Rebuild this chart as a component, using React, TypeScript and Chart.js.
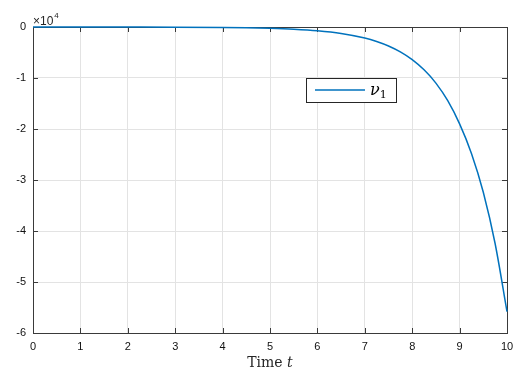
import React, { useEffect, useRef } from "react";
import { Chart, registerables } from "chart.js";

Chart.register(...registerables);

const timeT: number[] = [0, 1, 2, 3, 4, 4.5, 5, 5.5, 6, 6.5, 7, 7.25, 7.5, 7.75, 8, 8.25, 8.5, 8.75, 9, 9.25, 9.5, 9.75, 10];
const nu1: number[] = [0, -3, -8, -25, -80, -140, -250, -430, -730, -1260, -2160, -2840, -3720, -4880, -6400, -8400, -11000, -14450, -19000, -24800, -32400, -42500, -55800];
const xTicks: number[] = [0, 1, 2, 3, 4, 5, 6, 7, 8, 9, 10];
const yTicks: number[] = [0, -1, -2, -3, -4, -5, -6];
const legendLabel = "ν";
const legendSub = "1";
const xTitle = "Time ";
const xTitleVar = "t";
const yExponent = "4";

const LINE = "#0072BD";
const AXIS = "#262626";
const FRAME = "#3a3a3a";
const GRID = "#e3e3e3";
const SANS = '"Liberation Sans", Arial, sans-serif';

const framePlugin = {
  id: "frame",
  beforeDatasetsDraw(chart: any) {
    const { ctx, chartArea: a, scales } = chart;
    ctx.save();
    ctx.strokeStyle = FRAME;
    ctx.lineWidth = 1;
    ctx.strokeRect(Math.round(a.left) + 0.5, Math.round(a.top) + 0.5, Math.round(a.right - a.left), Math.round(a.bottom - a.top));
    ctx.beginPath();
    const tl = 5;
    for (const v of xTicks) {
      const x = Math.round(scales.x.getPixelForValue(v)) + 0.5;
      ctx.moveTo(x, a.bottom);
      ctx.lineTo(x, a.bottom - tl);
      ctx.moveTo(x, a.top);
      ctx.lineTo(x, a.top + tl);
    }
    for (const v of yTicks) {
      const y = Math.round(scales.y.getPixelForValue(v * 1e4)) + 0.5;
      ctx.moveTo(a.left, y);
      ctx.lineTo(a.left + tl, y);
      ctx.moveTo(a.right, y);
      ctx.lineTo(a.right - tl, y);
    }
    ctx.stroke();
    ctx.restore();
  },
  afterDraw(chart: any) {
    const { ctx, chartArea: a } = chart;
    ctx.save();
    // x axis title
    ctx.fillStyle = AXIS;
    ctx.textBaseline = "alphabetic";
    const f1 = '14px "DejaVu Serif", serif';
    const f2 = 'italic 14px "DejaVu Serif", serif';
    ctx.font = f1;
    const w1 = ctx.measureText(xTitle).width;
    ctx.font = f2;
    const w2 = ctx.measureText(xTitleVar).width;
    const cx = (a.left + a.right) / 2;
    const sx = cx - (w1 + w2) / 2;
    ctx.font = f1;
    ctx.textAlign = "left";
    ctx.fillText(xTitle, sx, 367);
    ctx.font = f2;
    ctx.fillText(xTitleVar, sx + w1, 367);
    // exponent label
    ctx.font = "12px " + SANS;
    ctx.fillText("×10", a.left + 0, a.top - 2);
    const we = ctx.measureText("×10").width;
    ctx.font = "8px " + SANS;
    ctx.fillText(yExponent, a.left + 1 + we, a.top - 9);
    // legend
    const bx = 306, by = 78, bw = 90, bh = 24;
    ctx.fillStyle = "#ffffff";
    ctx.fillRect(bx, by, bw, bh);
    ctx.strokeStyle = AXIS;
    ctx.lineWidth = 1;
    ctx.strokeRect(bx + 0.5, by + 0.5, bw, bh);
    ctx.strokeStyle = LINE;
    ctx.lineWidth = 1.5;
    ctx.beginPath();
    ctx.moveTo(315, by + 12);
    ctx.lineTo(365, by + 12);
    ctx.stroke();
    ctx.fillStyle = "#000000";
    ctx.font = 'italic 16px "DejaVu Serif", serif';
    ctx.fillText(legendLabel, 370, by + 17);
    const wl = ctx.measureText(legendLabel).width;
    ctx.font = '11px "DejaVu Serif", serif';
    ctx.fillText(legendSub, 370 + wl, by + 20);
    ctx.restore();
  },
};

export default function App() {
  const ref = useRef<HTMLCanvasElement | null>(null);
  useEffect(() => {
    if (!ref.current) return;
    const chart = new Chart(ref.current, {
      type: "line",
      data: {
        datasets: [
          {
            label: legendLabel + legendSub,
            data: timeT.map((t, i) => ({ x: t, y: nu1[i] })),
            borderColor: LINE,
            borderWidth: 1.5,
            pointRadius: 0,
            fill: false,
            cubicInterpolationMode: "monotone",
            clip: false as any,
          },
        ],
      },
      options: {
        animation: false,
        responsive: false,
        maintainAspectRatio: false,
        layout: { padding: { top: 27, right: 19, left: 0, bottom: 0 } },
        plugins: { legend: { display: false }, tooltip: { enabled: false } },
        scales: {
          x: {
            type: "linear",
            min: 0,
            max: 10,
            afterBuildTicks: (s: any) => {
              s.ticks = xTicks.map((v) => ({ value: v }));
            },
            afterFit: (s: any) => {
              s.height = 42;
            },
            grid: { color: GRID, drawTicks: false, lineWidth: 1 },
            border: { display: false },
            ticks: {
              color: "#111111",
              padding: 7,
              font: { family: SANS, size: 11 },
              maxRotation: 0,
              callback: (v: any) => String(v),
            },
          },
          y: {
            type: "linear",
            min: -60000,
            max: 0,
            afterBuildTicks: (s: any) => {
              s.ticks = yTicks.map((v) => ({ value: v * 1e4 }));
            },
            afterFit: (s: any) => {
              s.width = 33;
            },
            grid: { color: GRID, drawTicks: false, lineWidth: 1 },
            border: { display: false },
            ticks: {
              color: "#111111",
              padding: 7,
              font: { family: SANS, size: 11 },
              callback: (v: any) => String(Math.round(Number(v) / 1e4)),
            },
          },
        },
      },
      plugins: [framePlugin],
    });
    return () => chart.destroy();
  }, []);
  return (
    <div style={{ position: "fixed", left: 0, top: 0, width: 526, height: 375, background: "#fff" }}>
      <canvas ref={ref} width={526} height={375} style={{ width: 526, height: 375 }} />
    </div>
  );
}
